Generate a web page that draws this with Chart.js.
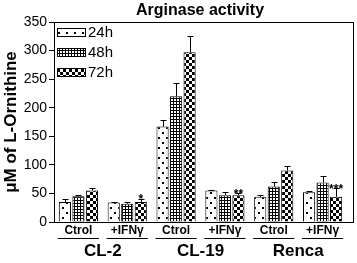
<!DOCTYPE html>
<html lang="en">
<head>
    <meta charset="UTF-8">
    <title>Arginase activity</title>
    <script src="https://cdn.jsdelivr.net/npm/chart.js"></script>
    <style>
        body { margin: 0; background: #fff; }
        canvas { display: block; }
    </style>
</head>
<body>
    <canvas id="argChart" width="357" height="263"></canvas>
    <script>
        // sub-categories along the x axis and the cell lines they belong to
        const subLabels = ['Ctrol', '+IFN\u03b3', 'Ctrol', '+IFN\u03b3', 'Ctrol', '+IFN\u03b3'];
        const cellLines = ['CL-2', 'CL-19', 'Renca'];

        // values (uM of L-Ornithine) and their upper error bars
        const h24 = [35, 34, 167, 55, 44, 52];
        const h24Err = [5, 1, 12, 1, 3, 2];
        const h48 = [45, 32, 220, 47, 62, 69];
        const h48Err = [3, 2.5, 24, 5, 8, 11];
        const h72 = [55, 35, 297, 47, 90, 44];
        const h72Err = [4, 5, 28, 3, 8, 15];
        const h72Stars = ['', '*', '', '**', '', '***'];

        const yTicks = [0, 50, 100, 150, 200, 250, 300, 350];
        const FONT = '"Liberation Sans", Arial, sans-serif';

        // fill patterns for the three time points
        function makePattern(kind) {
            const c = document.createElement('canvas');
            const g = c.getContext('2d');
            if (kind === 'dots') {
                c.width = 8; c.height = 10;
                g.fillStyle = '#fff'; g.fillRect(0, 0, 8, 10);
                g.fillStyle = '#000';
                g.fillRect(2, 2, 2, 2);
                g.fillRect(6, 7, 2, 2);
            } else if (kind === 'grid') {
                c.width = 3; c.height = 3;
                g.fillStyle = '#fff'; g.fillRect(0, 0, 3, 3);
                g.fillStyle = '#000';
                g.fillRect(2, 0, 1, 3);
                g.fillRect(0, 2, 3, 1);
            } else {
                c.width = 6; c.height = 6;
                g.fillStyle = '#fff'; g.fillRect(0, 0, 6, 6);
                g.fillStyle = '#000';
                g.fillRect(0, 0, 3, 3);
                g.fillRect(3, 3, 3, 3);
            }
            return g.createPattern(c, 'repeat');
        }

        const errors = [h24Err, h48Err, h72Err];
        const stars = [null, null, h72Stars];

        // error bars, stars, frame, title, legend and two-level x labels
        const decorations = {
            id: 'decorations',
            afterDatasetsDraw(chart) {
                const ctx = chart.ctx;
                const y = chart.scales.y;
                const x = chart.scales.x;
                const area = chart.chartArea;
                ctx.save();
                ctx.strokeStyle = '#000';
                ctx.fillStyle = '#000';
                ctx.lineWidth = 1;

                chart.data.datasets.forEach((ds, i) => {
                    const meta = chart.getDatasetMeta(i);
                    meta.data.forEach((bar, j) => {
                        const top = y.getPixelForValue(ds.data[j] + errors[i][j]);
                        const bx = Math.round(bar.x) + 0.5;
                        ctx.beginPath();
                        ctx.moveTo(bx, bar.y);
                        ctx.lineTo(bx, Math.round(top) + 0.5);
                        ctx.moveTo(bx - 3, Math.round(top) + 0.5);
                        ctx.lineTo(bx + 3, Math.round(top) + 0.5);
                        ctx.stroke();
                        if (stars[i] && stars[i][j]) {
                            ctx.font = 'bold 12px ' + FONT;
                            ctx.textAlign = 'center';
                            ctx.textBaseline = 'bottom';
                            ctx.fillText(stars[i][j], bar.x, top + 7);
                        }
                    });
                });

                // frame around the plot
                ctx.strokeRect(area.left + 0.5, area.top + 0.5, 353 - area.left, area.bottom - area.top);

                // title
                ctx.font = 'bold 16px ' + FONT;
                ctx.textAlign = 'center';
                ctx.textBaseline = 'middle';
                ctx.fillText('Arginase activity', 200, 11);

                // legend
                const lg = [chart.data.datasets[0], chart.data.datasets[1], chart.data.datasets[2]];
                lg.forEach((ds, i) => {
                    const ly = 28 + i * 20;
                    ctx.fillStyle = ds.backgroundColor;
                    ctx.fillRect(57, ly, 28, 8);
                    ctx.strokeRect(57.5, ly + 0.5, 28, 8);
                    ctx.fillStyle = '#000';
                    ctx.font = '15px ' + FONT;
                    ctx.textAlign = 'left';
                    ctx.fillText(ds.label, 88, ly + 5);
                });

                // x labels: sub label, underline, cell line
                const m0 = chart.getDatasetMeta(0).data;
                const m2 = chart.getDatasetMeta(2).data;
                subLabels.forEach((lab, j) => {
                    const cx = x.getPixelForValue(j);
                    const l = m0[j].x - m0[j].width / 2 - 1;
                    const r = m2[j].x + m2[j].width / 2 + 1;
                    ctx.font = 'bold 12px ' + FONT;
                    ctx.textAlign = 'center';
                    ctx.fillText(lab, cx, 231);
                    ctx.beginPath();
                    ctx.moveTo(l, 238.5);
                    ctx.lineTo(r, 238.5);
                    ctx.stroke();
                });
                cellLines.forEach((name, k) => {
                    const cx = (x.getPixelForValue(2 * k) + x.getPixelForValue(2 * k + 1)) / 2;
                    ctx.font = 'bold 17px ' + FONT;
                    ctx.textAlign = 'center';
                    ctx.fillText(name, cx, 251);
                });
                ctx.restore();
            }
        };

        const ctx = document.getElementById('argChart').getContext('2d');
        new Chart(ctx, {
            type: 'bar',
            data: {
                labels: subLabels,
                datasets: [
                    { label: '24h', data: h24, backgroundColor: makePattern('dots') },
                    { label: '48h', data: h48, backgroundColor: makePattern('grid') },
                    { label: '72h', data: h72, backgroundColor: makePattern('check') }
                ].map(d => Object.assign(d, {
                    borderColor: '#000',
                    borderWidth: 1,
                    borderSkipped: 'bottom',
                    categoryPercentage: 0.83,
                    barPercentage: 0.9
                }))
            },
            plugins: [decorations],
            options: {
                responsive: false,
                animation: false,
                devicePixelRatio: 1,
                layout: { padding: { top: 22, right: 10, left: 0, bottom: 0 } },
                plugins: {
                    legend: { display: false },
                    title: { display: false },
                    tooltip: { enabled: false }
                },
                scales: {
                    x: {
                        grid: { display: false },
                        border: { display: false },
                        ticks: { display: false },
                        afterFit(scale) { scale.height = 41; }
                    },
                    y: {
                        min: 0,
                        max: 350,
                        afterBuildTicks(scale) { scale.ticks = yTicks.map(v => ({ value: v })); },
                        afterFit(scale) { scale.width = 54; },
                        grid: { drawOnChartArea: false, tickLength: 5, color: '#000' },
                        border: { color: '#000' },
                        ticks: { color: '#000', padding: 2, font: { family: FONT, size: 14 } },
                        title: {
                            display: true,
                            text: '\u03bcM of L-Ornithine',
                            color: '#000',
                            font: { family: FONT, size: 17, weight: 'bold' },
                            padding: { top: 1, bottom: 0 }
                        }
                    }
                }
            }
        });
    </script>
</body>
</html>
